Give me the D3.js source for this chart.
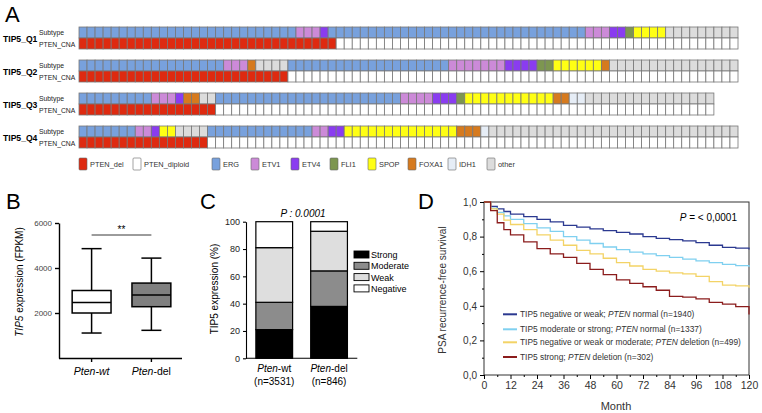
<!DOCTYPE html>
<html>
<head>
<meta charset="utf-8">
<script src="https://cdn.jsdelivr.net/npm/d3@7"></script>
<style>
  body { margin: 0; background: #fff; }
  svg { display: block; font-family: "Liberation Sans", Arial, sans-serif; }
</style>
</head>
<body>
<svg id="chart" width="762" height="413"></svg>
<script>
// ---------- data ----------
// panel A: subtype runs per TIP5 quartile, [subtype, number of tumours]
const quartiles = ["TIP5_Q1", "TIP5_Q2", "TIP5_Q3", "TIP5_Q4"];
const subtypes = ["ERG", "ETV1", "ETV4", "FLI1", "SPOP", "FOXA1", "IDH1", "other"];
const q1Runs = [["ERG", 27], ["ETV1", 3], ["ETV4", 1], ["ERG", 32], ["ETV1", 3], ["ETV4", 2], ["FLI1", 1], ["SPOP", 4], ["other", 9]];
const q2Runs = [["ERG", 18], ["ETV1", 3], ["FOXA1", 1], ["other", 4], ["ERG", 20], ["ETV1", 7], ["ETV4", 4], ["FLI1", 2], ["SPOP", 6], ["FOXA1", 1], ["other", 16]];
const q3Runs = [["ERG", 9], ["ETV1", 3], ["ETV4", 1], ["FOXA1", 2], ["other", 2], ["ERG", 23], ["ETV1", 4], ["ETV4", 3], ["FLI1", 1], ["SPOP", 11], ["FOXA1", 2], ["IDH1", 2], ["other", 16]];
const q4Runs = [["ERG", 7], ["ETV1", 2], ["ETV4", 1], ["SPOP", 2], ["other", 4], ["ERG", 13], ["ETV1", 2], ["ETV4", 2], ["SPOP", 14], ["FOXA1", 3], ["IDH1", 1], ["other", 31]];
const subtypeRuns = [q1Runs, q2Runs, q3Runs, q4Runs];
const ptenDelCount = [32, 26, 17, 16];
const cnaLabels = ["PTEN_del", "PTEN_diploid"];

// panel B: box plot stats (FPKM)
const groups = ["Pten-wt", "Pten-del"];
const boxMin = [1110, 1230];
const boxQ1 = [2000, 2280];
const boxMedian = [2470, 2800];
const boxQ3 = [3000, 3330];
const boxMax = [4860, 4440];
const bTicks = [2000, 4000, 6000];

// panel C: TIP5 IHC (%)
const ihcLevels = ["Strong", "Moderate", "Weak", "Negative"];
const ihcWt = [21, 20, 40, 19];
const ihcDel = [38, 26, 29, 7];
const ihcN = ["(n=3531)", "(n=846)"];

// panel D: PSA recurrence-free survival
const months = [0, 3, 6, 9, 12, 18, 24, 30, 36, 42, 48, 54, 60, 66, 72, 78, 84, 90, 96, 102, 108, 114, 120];
const survNegWeakNormal = [1.0, 0.975, 0.96, 0.945, 0.93, 0.915, 0.90, 0.885, 0.865, 0.855, 0.845, 0.835, 0.825, 0.815, 0.80, 0.79, 0.782, 0.775, 0.765, 0.75, 0.738, 0.733, 0.725];
const survModStrongNormal = [1.0, 0.965, 0.94, 0.92, 0.90, 0.875, 0.85, 0.83, 0.80, 0.78, 0.76, 0.74, 0.725, 0.71, 0.70, 0.69, 0.68, 0.67, 0.66, 0.65, 0.64, 0.632, 0.625];
const survNegWeakModDel = [1.0, 0.96, 0.93, 0.895, 0.87, 0.84, 0.81, 0.78, 0.75, 0.72, 0.70, 0.675, 0.65, 0.63, 0.61, 0.60, 0.59, 0.585, 0.57, 0.54, 0.52, 0.515, 0.505];
const survStrongDel = [1.0, 0.95, 0.88, 0.84, 0.81, 0.77, 0.73, 0.70, 0.68, 0.645, 0.61, 0.58, 0.55, 0.53, 0.51, 0.49, 0.455, 0.45, 0.44, 0.42, 0.41, 0.395, 0.35];
const survSeries = [survNegWeakNormal, survModStrongNormal, survNegWeakModDel, survStrongDel];
const survLabels = [
  ["TIP5 negative or weak; ", "PTEN", " normal (n=1940)"],
  ["TIP5 moderate or strong; ", "PTEN", " normal  (n=1337)"],
  ["TIP5 negative or weak or moderate; ", "PTEN", " deletion (n=499)"],
  ["TIP5 strong; ", "PTEN", " deletion (n=302)"]
];

// ---------- drawing ----------
const svg = d3.select("#chart");

function panelLetter(t, x, y) {
  svg.append("text").attr("x", x).attr("y", y).attr("font-size", 22).text(t);
}
panelLetter("A", 5, 22);
panelLetter("B", 6, 209);
panelLetter("C", 200, 209);
panelLetter("D", 418, 209);

// ----- A -----
const subtypeColor = d3.scaleOrdinal().domain(subtypes)
  .range(["#78a1dd", "#cc8ad8", "#8a3cf0", "#7d9650", "#ffff14", "#d67a1e", "#e6edf6", "#dcdcdc"]);
const cnaColor = d3.scaleOrdinal().domain(cnaLabels).range(["#de2a10", "#ffffff"]);

const xCell = d3.scaleLinear().domain([0, 82]).range([79, 738]);
const yRow = d3.scaleBand().domain(quartiles).range([27, 148]).paddingInner(1 / 3);
const cellH = yRow.bandwidth() / 2;
const gA = svg.append("g");

quartiles.forEach((q, qi) => {
  const cells = subtypeRuns[qi].flatMap(([t, n]) => d3.range(n).map(() => t));
  const row = gA.append("g").attr("transform", `translate(0,${yRow(q)})`);
  row.selectAll("rect.sub").data(cells).join("rect")
    .attr("class", "sub")
    .attr("x", (d, i) => xCell(i)).attr("y", 0)
    .attr("width", (d, i) => xCell(i + 1) - xCell(i)).attr("height", cellH)
    .attr("fill", d => subtypeColor(d))
    .attr("stroke", "#777").attr("stroke-width", 0.8);
  row.selectAll("rect.cna").data(cells).join("rect")
    .attr("class", "cna")
    .attr("x", (d, i) => xCell(i)).attr("y", cellH)
    .attr("width", (d, i) => xCell(i + 1) - xCell(i)).attr("height", cellH)
    .attr("fill", (d, i) => cnaColor(i < ptenDelCount[qi] ? "PTEN_del" : "PTEN_diploid"))
    .attr("stroke", "#777").attr("stroke-width", 0.8);
  row.append("text").attr("x", 3).attr("y", 15).attr("font-size", 8.6)
    .attr("font-weight", "bold").text(q);
  row.append("text").attr("x", 39).attr("y", 7.5).attr("font-size", 6.8)
    .attr("fill", "#222").text("Subtype");
  row.append("text").attr("x", 39).attr("y", 19.5).attr("font-size", 6.8)
    .attr("fill", "#222").text("PTEN_CNA");
});

const legA = cnaLabels.map(k => ({ key: k, fill: cnaColor(k) }))
  .concat(subtypes.map(k => ({ key: k, fill: subtypeColor(k) })));
const legAx = [79, 133, 212, 251, 291, 330, 368, 408, 448, 487];
const lA = gA.selectAll("g.leg").data(legA).join("g")
  .attr("class", "leg")
  .attr("transform", (d, i) => `translate(${legAx[i]},158)`);
lA.append("rect").attr("width", 8).attr("height", 12).attr("rx", 1)
  .attr("fill", d => d.fill).attr("stroke", "#666").attr("stroke-width", 0.6);
lA.append("text").attr("x", 11).attr("y", 9).attr("font-size", 7.4)
  .attr("fill", "#333").text(d => d.key);

// ----- B -----
const gB = svg.append("g");
const bX = d3.scaleBand().domain(groups).range([59, 184]).paddingInner(0.35).paddingOuter(0.22);
const bY = d3.scaleLinear().domain([0, 6000]).range([358, 223]);

gB.append("g").attr("transform", "translate(59,0)")
  .call(d3.axisLeft(bY).tickValues(bTicks).tickSize(4).tickSizeOuter(0).tickFormat(d3.format("d")))
  .call(g => g.selectAll("text").attr("font-size", 8).attr("fill", "#444")
    .attr("font-family", "Liberation Sans, Arial, sans-serif"))
  .call(g => g.selectAll("path,line").attr("stroke-width", 1.4));
gB.append("g").attr("transform", "translate(0,358)")
  .call(d3.axisBottom(bX).tickSize(4).tickSizeOuter(0).tickFormat(""))
  .call(g => g.select(".domain").attr("d", "M59,0.5H182"))
  .call(g => g.selectAll("path,line").attr("stroke-width", 1.4));

const boxes = groups.map((g, i) => ({ g, min: boxMin[i], q1: boxQ1[i], med: boxMedian[i], q3: boxQ3[i], max: boxMax[i] }));
const bw = bX.bandwidth();
const bg = gB.selectAll("g.box").data(boxes).join("g").attr("class", "box")
  .attr("transform", d => `translate(${bX(d.g)},0)`);
bg.append("line").attr("x1", bw / 2).attr("x2", bw / 2)
  .attr("y1", d => bY(d.max)).attr("y2", d => bY(d.min))
  .attr("stroke", "#000").attr("stroke-width", 1.5);
bg.selectAll("line.cap").data(d => [d.min, d.max]).join("line").attr("class", "cap")
  .attr("x1", bw / 2 - 10).attr("x2", bw / 2 + 10)
  .attr("y1", d => bY(d)).attr("y2", d => bY(d))
  .attr("stroke", "#000").attr("stroke-width", 1.5);
bg.append("rect").attr("x", 0).attr("width", bw)
  .attr("y", d => bY(d.q3)).attr("height", d => bY(d.q1) - bY(d.q3))
  .attr("fill", (d, i) => i === 0 ? "#fff" : "#808080")
  .attr("stroke", "#000").attr("stroke-width", 1.5);
bg.append("line").attr("x1", 0).attr("x2", bw)
  .attr("y1", d => bY(d.med)).attr("y2", d => bY(d.med))
  .attr("stroke", "#000").attr("stroke-width", 1.5);

const cx0 = bX(groups[0]) + bw / 2, cx1 = bX(groups[1]) + bw / 2;
gB.append("line").attr("x1", cx0).attr("x2", cx1).attr("y1", 235).attr("y2", 235)
  .attr("stroke", "#222").attr("stroke-width", 0.9);
gB.append("text").attr("x", (cx0 + cx1) / 2).attr("y", 233).attr("text-anchor", "middle")
  .attr("font-size", 10).text("**");

function groupLabel(sel, g) {
  if (g === "Pten-wt") {
    sel.append("tspan").attr("font-style", "italic").text("Pten-wt");
  } else {
    sel.append("tspan").attr("font-style", "italic").text("Pten");
    sel.append("tspan").text("-del");
  }
}
groups.forEach(g => {
  const t = gB.append("text").attr("x", bX(g) + bw / 2).attr("y", 375)
    .attr("text-anchor", "middle").attr("font-size", 10.5);
  groupLabel(t, g);
});
const bLab = gB.append("text").attr("transform", "translate(23,282) rotate(-90)")
  .attr("text-anchor", "middle").attr("font-size", 10);
bLab.append("tspan").attr("font-style", "italic").text("TIP5");
bLab.append("tspan").text(" expression (FPKM)");

// ----- C -----
const gC = svg.append("g");
const cX = d3.scaleBand().domain(groups).range([246, 357.3]).paddingInner(0.33).paddingOuter(0.18);
const cY = d3.scaleLinear().domain([0, 100]).range([358.3, 221.7]);
const ihcRows = groups.map((g, i) => {
  const vals = i === 0 ? ihcWt : ihcDel;
  const o = { group: g };
  ihcLevels.forEach((k, j) => o[k] = vals[j]);
  return o;
});
const stack = d3.stack().keys(ihcLevels)(ihcRows);
const ihcColor = d3.scaleOrdinal().domain(ihcLevels).range(["#000", "#8c8c8c", "#dedede", "#fff"]);

gC.selectAll("g.layer").data(stack).join("g").attr("class", "layer")
  .attr("fill", d => ihcColor(d.key))
  .selectAll("rect").data(d => d).join("rect")
  .attr("x", d => cX(d.data.group)).attr("width", cX.bandwidth())
  .attr("y", d => cY(d[1])).attr("height", d => cY(d[0]) - cY(d[1]))
  .attr("stroke", "#000").attr("stroke-width", 1.2);

gC.append("g").attr("transform", "translate(246,0)")
  .call(d3.axisLeft(cY).tickValues([0, 20, 40, 60, 80, 100]).tickSize(3).tickSizeOuter(0))
  .call(g => g.selectAll("text").attr("font-size", 9).attr("fill", "#222")
    .attr("font-family", "Liberation Sans, Arial, sans-serif"))
  .call(g => g.selectAll("path,line").attr("stroke-width", 1.1));
gC.append("line").attr("x1", 246).attr("x2", 357.3).attr("y1", 358.3).attr("y2", 358.3)
  .attr("stroke", "#000").attr("stroke-width", 1.1);

groups.forEach((g, i) => {
  const x = cX(g) + cX.bandwidth() / 2;
  const t = gC.append("text").attr("x", x).attr("y", 372).attr("text-anchor", "middle").attr("font-size", 10);
  if (g === "Pten-wt") {
    t.append("tspan").attr("font-style", "italic").text("Pten");
    t.append("tspan").text("-wt");
  } else {
    groupLabel(t, g);
  }
  gC.append("text").attr("x", x).attr("y", 384.5).attr("text-anchor", "middle")
    .attr("font-size", 10).text(ihcN[i]);
});

const cLab = gC.append("text").attr("transform", "translate(218,289) rotate(-90)")
  .attr("text-anchor", "middle").attr("font-size", 10);
cLab.append("tspan").text("TIP5 expression (%)");

gC.append("text").attr("x", 303).attr("y", 217).attr("text-anchor", "middle")
  .attr("font-size", 10).attr("font-style", "italic").text("P : 0.0001");

const lC = gC.selectAll("g.leg").data(ihcLevels).join("g").attr("class", "leg")
  .attr("transform", (d, i) => `translate(354,${251 + i * 11.3})`);
lC.append("rect").attr("width", 15).attr("height", 7)
  .attr("fill", d => ihcColor(d)).attr("stroke", "#000").attr("stroke-width", 0.9);
lC.append("text").attr("x", 17).attr("y", 7).attr("font-size", 9).text(d => d);

// ----- D -----
const gD = svg.append("g");
const dX = d3.scaleLinear().domain([0, 120]).range([484, 749]);
const dY = d3.scaleLinear().domain([0, 1]).range([375, 202]);
const comma = d3.format(".1f");

gD.append("rect").attr("x", 484).attr("y", 202).attr("width", 265).attr("height", 173)
  .attr("fill", "none").attr("stroke", "#333").attr("stroke-width", 1);

gD.append("g").attr("transform", "translate(484,0)")
  .call(d3.axisLeft(dY).tickValues(d3.range(0.1, 1, 0.2)).tickSize(2).tickFormat(""))
  .call(g => g.select(".domain").remove());
gD.append("g").attr("transform", "translate(484,0)")
  .call(d3.axisLeft(dY).tickValues([0, 0.2, 0.4, 0.6, 0.8, 1.0]).tickSize(4)
    .tickFormat(d => comma(d).replace(".", ",")))
  .call(g => g.select(".domain").remove())
  .call(g => g.selectAll("text").attr("font-size", 10).attr("fill", "#333")
    .attr("font-family", "Liberation Sans, Arial, sans-serif"));
gD.append("g").attr("transform", "translate(0,375)")
  .call(d3.axisBottom(dX).tickValues(d3.range(6, 120, 12)).tickSize(2).tickFormat(""))
  .call(g => g.select(".domain").remove());
gD.append("g").attr("transform", "translate(0,375)")
  .call(d3.axisBottom(dX).tickValues(d3.range(0, 121, 12)).tickSize(4))
  .call(g => g.select(".domain").remove())
  .call(g => g.selectAll("text").attr("font-size", 10.5).attr("fill", "#333")
    .attr("font-family", "Liberation Sans, Arial, sans-serif"));

gD.append("text").attr("x", 616).attr("y", 410).attr("text-anchor", "middle")
  .attr("font-size", 11).attr("fill", "#333").text("Month");
gD.append("text").attr("transform", "translate(446,290) rotate(-90)")
  .attr("text-anchor", "middle").attr("font-size", 10).attr("fill", "#333")
  .text("PSA recurrence-free survival");

const survColor = ["#2b3990", "#7fd0f0", "#f3d366", "#8b1c1c"];
const line = d3.line().curve(d3.curveStepAfter)
  .x((d, i) => dX(months[i])).y(d => dY(d));
gD.selectAll("path.km").data(survSeries).join("path").attr("class", "km")
  .attr("d", line).attr("fill", "none")
  .attr("stroke", (d, i) => survColor[i]).attr("stroke-width", 1.3);

const pD = gD.append("text").attr("x", 737).attr("y", 221).attr("text-anchor", "end")
  .attr("font-size", 10);
pD.append("tspan").attr("font-style", "italic").text("P");
pD.append("tspan").text(" = < 0,0001");

const lD = gD.selectAll("g.leg").data(survLabels).join("g").attr("class", "leg")
  .attr("transform", (d, i) => `translate(503,${[314.3, 329.3, 342.3, 357][i]})`);
lD.append("line").attr("x1", 0).attr("x2", 14).attr("stroke", (d, i) => survColor[i])
  .attr("stroke-width", 2);
lD.append("text").attr("x", 17).attr("y", 2.8).attr("font-size", 8.4).attr("fill", "#333")
  .each(function (d) {
    const t = d3.select(this);
    t.append("tspan").text(d[0]);
    t.append("tspan").attr("font-style", "italic").text(d[1]);
    t.append("tspan").text(d[2]);
  });
</script>
</body>
</html>
